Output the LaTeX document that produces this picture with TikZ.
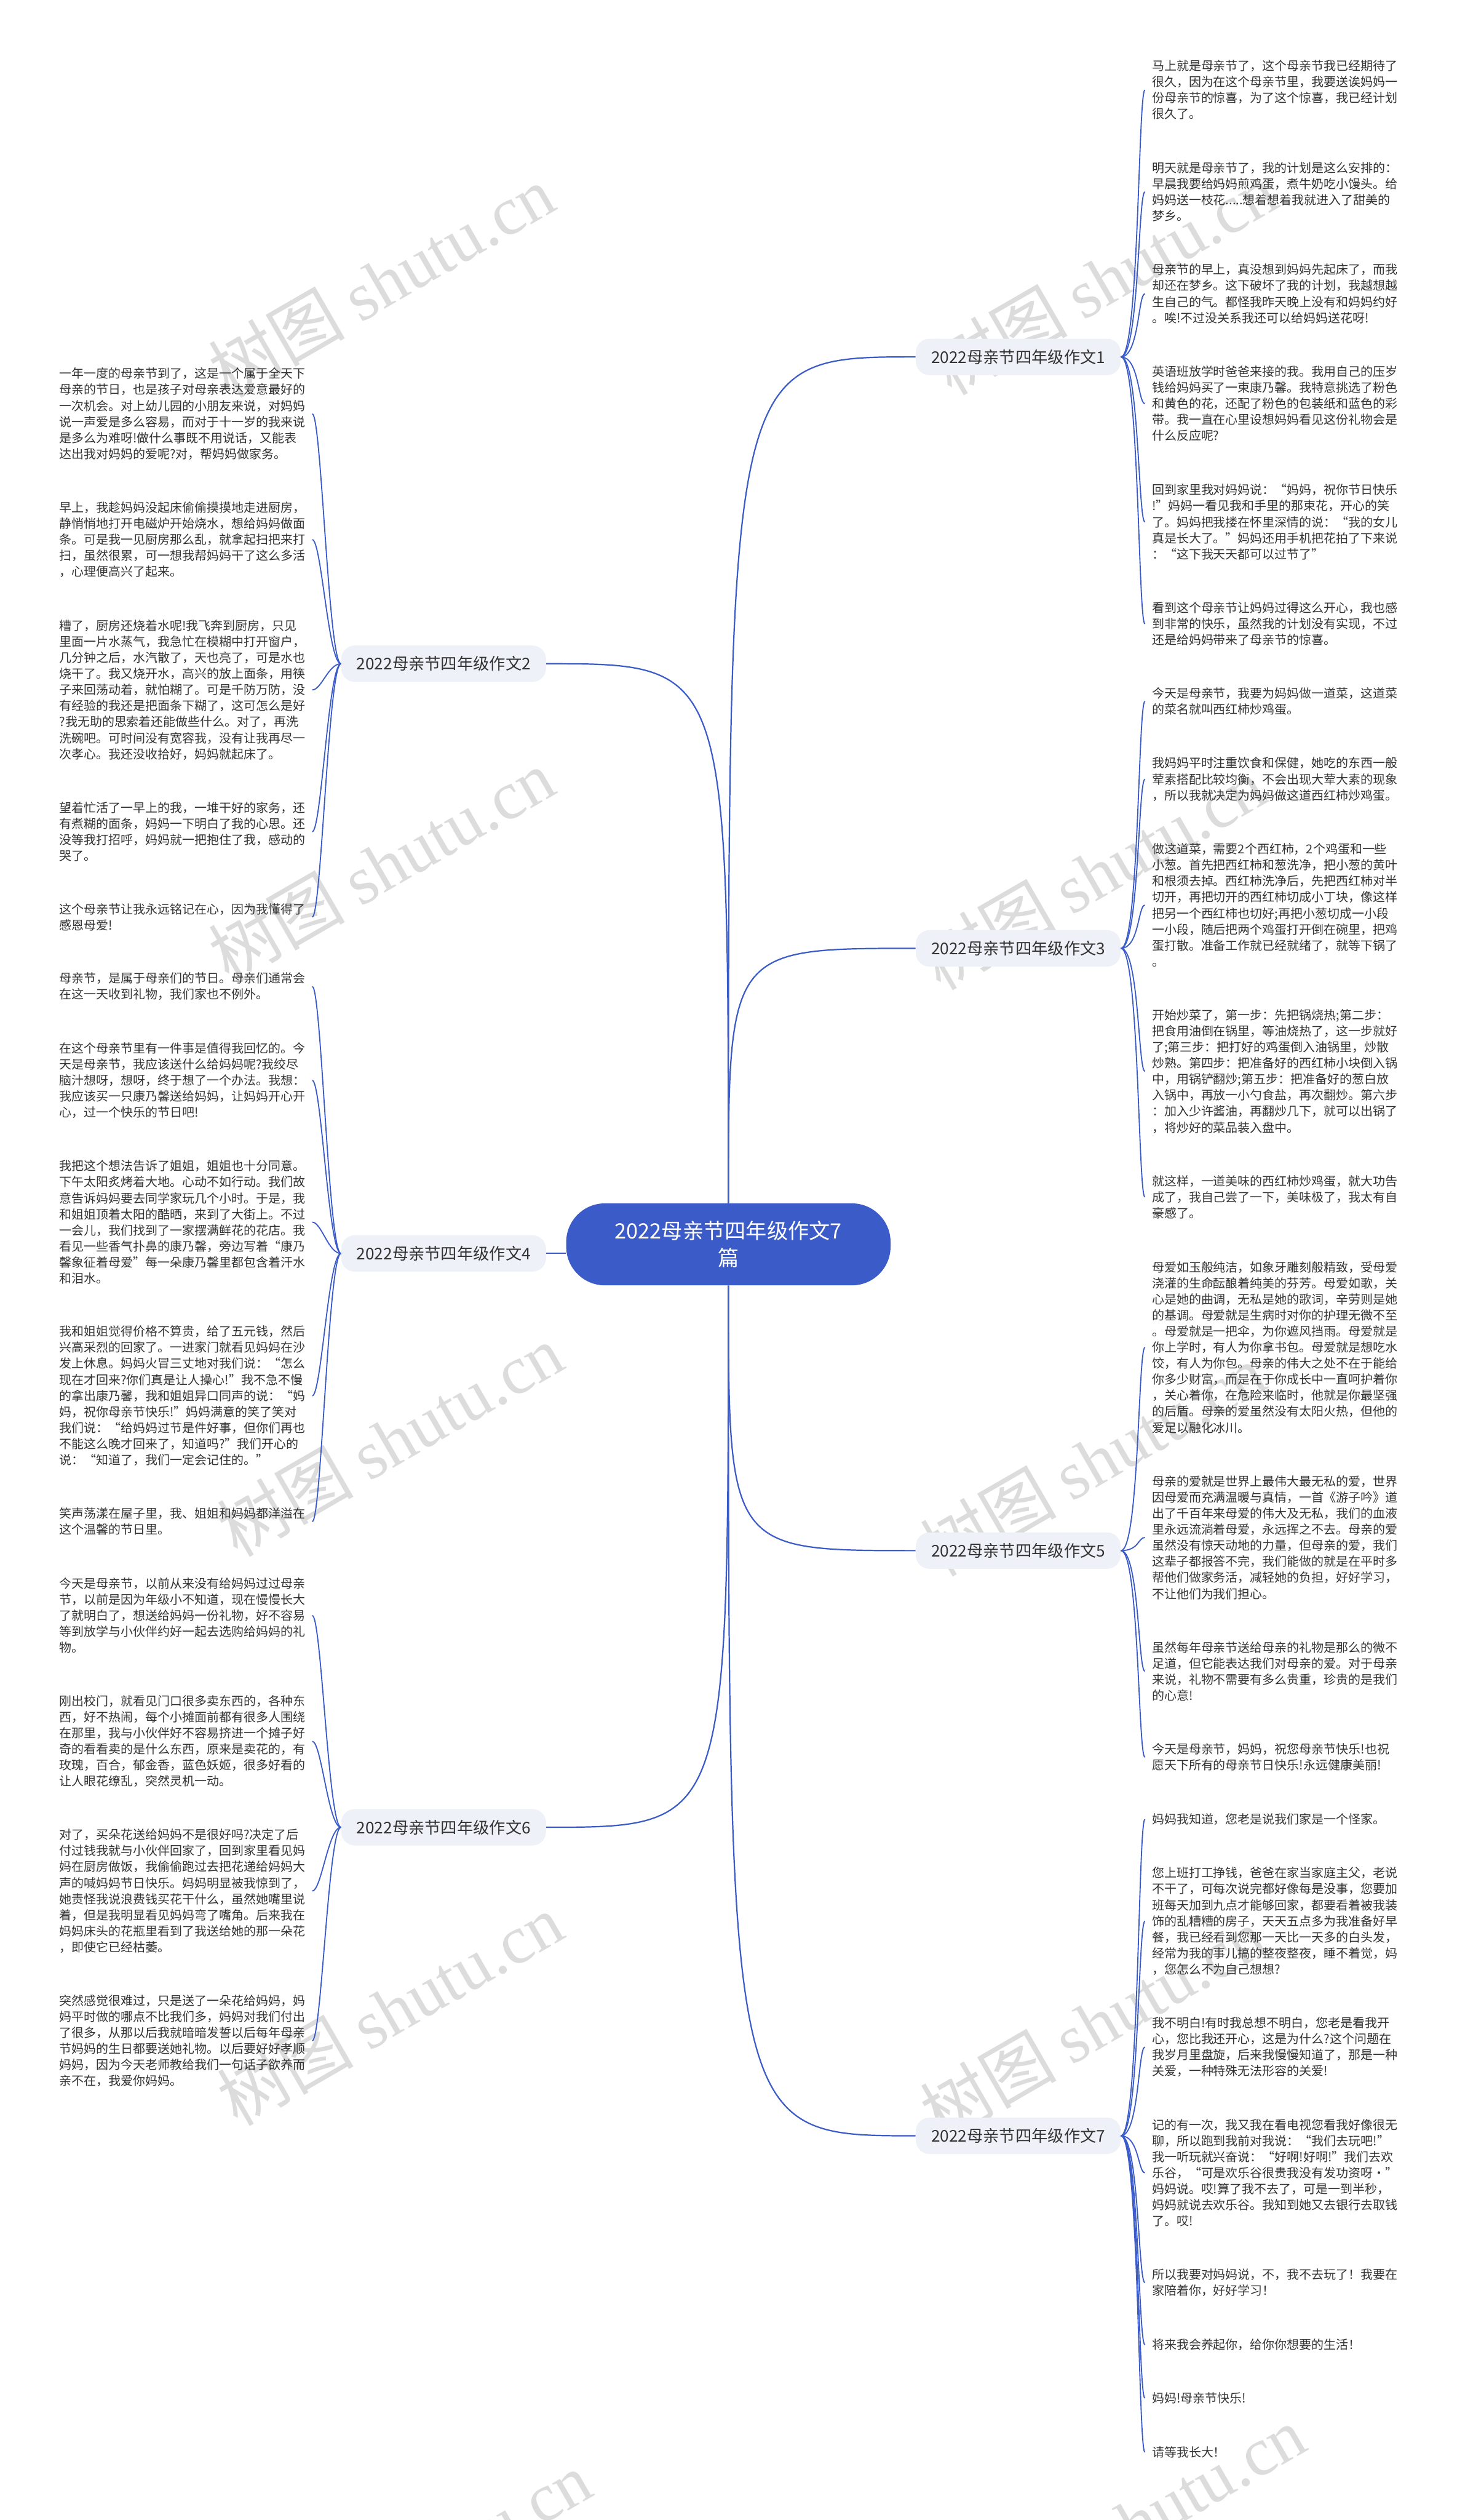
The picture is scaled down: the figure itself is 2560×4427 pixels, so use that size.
\documentclass[tikz,border=0pt]{standalone}
\usepackage{fontspec}
\setmainfont{Noto Sans CJK SC}
\newfontfamily\wmserif{Liberation Serif}
\definecolor{mainblue}{HTML}{3B5CC8}
\definecolor{branchfill}{HTML}{EEF1F7}
\definecolor{txt}{HTML}{333333}
\definecolor{wmgray}{HTML}{DCDCDC}
\tikzset{
  centerbox/.style={fill=mainblue, text=white, rounded corners=34pt, minimum width=285pt, minimum height=72pt, align=center, inner sep=0pt, font=\fontsize{18.5}{24}\selectfont},
  branchbox/.style={fill=branchfill, text=txt, rounded corners=12pt, minimum width=180pt, minimum height=32pt, inner sep=0pt, font=\fontsize{14.2}{17}\selectfont},
  leaf/.style={anchor=west, text width=216pt, align=left, inner xsep=6pt, inner ysep=0pt, text=txt, font=\fontsize{10.8}{14.1}\selectfont},
  mainlink/.style={draw=mainblue, line width=1.2pt},
  leaflink/.style={draw=mainblue, line width=1pt},
  wm/.style={rotate=30, text=wmgray, font=\fontsize{60}{60}\selectfont}
}
\begin{document}
\begin{tikzpicture}[x=0.5pt, y=-0.5pt]
\useasboundingbox (0,0) rectangle (2560,4427);
\fill[white] (0,0) rectangle (2560,4427);
% watermarks
\foreach \wx/\wy in {670/494, 670/1520, 685/2530, 685/3530, 735/4510, 1940/490, 1920/1535, 1920/2565, 1920/3555, 1990/4430}
  \node[wm] at (\wx,\wy) {树图 {\wmserif shutu.cn}};
% center
\node[centerbox] (c) at (1280,2186) {2022母亲节四年级作文7\\篇};
% branches
\node[branchbox, anchor=west] (b1) at (1609,627) {2022母亲节四年级作文1};
\node[branchbox, anchor=west] (b3) at (1609,1666) {2022母亲节四年级作文3};
\node[branchbox, anchor=west] (b5) at (1609,2724) {2022母亲节四年级作文5};
\node[branchbox, anchor=west] (b7) at (1609,3752) {2022母亲节四年级作文7};
\node[branchbox, anchor=east] (b2) at (960,1166) {2022母亲节四年级作文2};
\node[branchbox, anchor=east] (b4) at (960,2202) {2022母亲节四年级作文4};
\node[branchbox, anchor=east] (b6) at (960,3210) {2022母亲节四年级作文6};
% right leaves
\node[leaf] (r1a) at (2012,158) {马上就是母亲节了，这个母亲节我已经期待了\\很久，因为在这个母亲节里，我要送诶妈妈一\\份母亲节的惊喜，为了这个惊喜，我已经计划\\很久了。};
\node[leaf] (r1b) at (2012,337) {明天就是母亲节了，我的计划是这么安排的：\\早晨我要给妈妈煎鸡蛋，煮牛奶吃小馒头。给\\妈妈送一枝花.....想着想着我就进入了甜美的\\梦乡。};
\node[leaf] (r1c) at (2012,516) {母亲节的早上，真没想到妈妈先起床了，而我\\却还在梦乡。这下破坏了我的计划，我越想越\\生自己的气。都怪我昨天晚上没有和妈妈约好\\。唉!不过没关系我还可以给妈妈送花呀!};
\node[leaf] (r1d) at (2012,709) {英语班放学时爸爸来接的我。我用自己的压岁\\钱给妈妈买了一束康乃馨。我特意挑选了粉色\\和黄色的花，还配了粉色的包装纸和蓝色的彩\\带。我一直在心里设想妈妈看见这份礼物会是\\什么反应呢?};
\node[leaf] (r1e) at (2012,917) {回到家里我对妈妈说：“妈妈，祝你节日快乐\\!”妈妈一看见我和手里的那束花，开心的笑\\了。妈妈把我搂在怀里深情的说：“我的女儿\\真是长大了。”妈妈还用手机把花拍了下来说\\：“这下我天天都可以过节了”};
\node[leaf] (r1f) at (2012,1096) {看到这个母亲节让妈妈过得这么开心，我也感\\到非常的快乐，虽然我的计划没有实现，不过\\还是给妈妈带来了母亲节的惊喜。};
\node[leaf] (r3a) at (2012,1232) {今天是母亲节，我要为妈妈做一道菜，这道菜\\的菜名就叫西红柿炒鸡蛋。};
\node[leaf] (r3b) at (2012,1369) {我妈妈平时注重饮食和保健，她吃的东西一般\\荤素搭配比较均衡，不会出现大荤大素的现象\\，所以我就决定为妈妈做这道西红柿炒鸡蛋。};
\node[leaf] (r3c) at (2012,1590) {做这道菜，需要2个西红柿，2个鸡蛋和一些\\小葱。首先把西红柿和葱洗净，把小葱的黄叶\\和根须去掉。西红柿洗净后，先把西红柿对半\\切开，再把切开的西红柿切成小丁块，像这样\\把另一个西红柿也切好;再把小葱切成一小段\\一小段，随后把两个鸡蛋打开倒在碗里，把鸡\\蛋打散。准备工作就已经就绪了，就等下锅了\\。};
\node[leaf] (r3d) at (2012,1882) {开始炒菜了，第一步：先把锅烧热;第二步：\\把食用油倒在锅里，等油烧热了，这一步就好\\了;第三步：把打好的鸡蛋倒入油锅里，炒散\\炒熟。第四步：把准备好的西红柿小块倒入锅\\中，用锅铲翻炒;第五步：把准备好的葱白放\\入锅中，再放一小勺食盐，再次翻炒。第六步\\：加入少许酱油，再翻炒几下，就可以出锅了\\，将炒好的菜品装入盘中。};
\node[leaf] (r3e) at (2012,2103) {就这样，一道美味的西红柿炒鸡蛋，就大功告\\成了，我自己尝了一下，美味极了，我太有自\\豪感了。};
\node[leaf] (r5a) at (2012,2367) {母爱如玉般纯洁，如象牙雕刻般精致，受母爱\\浇灌的生命酝酿着纯美的芬芳。母爱如歌，关\\心是她的曲调，无私是她的歌词，辛劳则是她\\的基调。母爱就是生病时对你的护理无微不至\\。母爱就是一把伞，为你遮风挡雨。母爱就是\\你上学时，有人为你拿书包。母爱就是想吃水\\饺，有人为你包。母亲的伟大之处不在于能给\\你多少财富，而是在于你成长中一直呵护着你\\，关心着你，在危险来临时，他就是你最坚强\\的后盾。母亲的爱虽然没有太阳火热，但他的\\爱足以融化冰川。};
\node[leaf] (r5b) at (2012,2701) {母亲的爱就是世界上最伟大最无私的爱，世界\\因母爱而充满温暖与真情，一首《游子吟》道\\出了千百年来母爱的伟大及无私，我们的血液\\里永远流淌着母爱，永远挥之不去。母亲的爱\\虽然没有惊天动地的力量，但母亲的爱，我们\\这辈子都报答不完，我们能做的就是在平时多\\帮他们做家务活，减轻她的负担，好好学习，\\不让他们为我们担心。};
\node[leaf] (r5c) at (2012,2936) {虽然每年母亲节送给母亲的礼物是那么的微不\\足道，但它能表达我们对母亲的爱。对于母亲\\来说，礼物不需要有多么贵重，珍贵的是我们\\的心意!};
\node[leaf] (r5d) at (2012,3087) {今天是母亲节，妈妈，祝您母亲节快乐!也祝\\愿天下所有的母亲节日快乐!永远健康美丽!};
\node[leaf] (r7a) at (2012,3196) {妈妈我知道，您老是说我们家是一个怪家。};
\node[leaf] (r7b) at (2012,3375) {您上班打工挣钱，爸爸在家当家庭主父，老说\\不干了，可每次说完都好像每是没事，您要加\\班每天加到九点才能够回家，都要看着被我装\\饰的乱糟糟的房子，天天五点多为我准备好早\\餐，我已经看到您那一天比一天多的白头发，\\经常为我的事儿搞的整夜整夜，睡不着觉，妈\\，您怎么不为自己想想?};
\node[leaf] (r7c) at (2012,3596) {我不明白!有时我总想不明白，您老是看我开\\心，您比我还开心，这是为什么?这个问题在\\我岁月里盘旋，后来我慢慢知道了，那是一种\\关爱，一种特殊无法形容的关爱!};
\node[leaf] (r7d) at (2012,3817) {记的有一次，我又我在看电视您看我好像很无\\聊，所以跑到我前对我说：“我们去玩吧!”\\我一听玩就兴奋说：“好啊!好啊!”我们去欢\\乐谷，“可是欢乐谷很贵我没有发功资呀·”\\妈妈说。哎!算了我不去了，可是一到半秒，\\妈妈就说去欢乐谷。我知到她又去银行去取钱\\了。哎!};
\node[leaf] (r7e) at (2012,4010) {所以我要对妈妈说，不，我不去玩了！我要在\\家陪着你，好好学习！};
\node[leaf] (r7f) at (2012,4119) {将来我会养起你，给你你想要的生活！};
\node[leaf] (r7g) at (2012,4213) {妈妈!母亲节快乐!};
\node[leaf] (r7h) at (2012,4308) {请等我长大！};
% left leaves
\node[leaf] (l2a) at (92,727) {一年一度的母亲节到了，这是一个属于全天下\\母亲的节日，也是孩子对母亲表达爱意最好的\\一次机会。对上幼儿园的小朋友来说，对妈妈\\说一声爱是多么容易，而对于十一岁的我来说\\是多么为难呀!做什么事既不用说话，又能表\\达出我对妈妈的爱呢?对，帮妈妈做家务。};
\node[leaf] (l2b) at (92,948) {早上，我趁妈妈没起床偷偷摸摸地走进厨房，\\静悄悄地打开电磁炉开始烧水，想给妈妈做面\\条。可是我一见厨房那么乱，就拿起扫把来打\\扫，虽然很累，可一想我帮妈妈干了这么多活\\，心理便高兴了起来。};
\node[leaf] (l2c) at (92,1212) {糟了，厨房还烧着水呢!我飞奔到厨房，只见\\里面一片水蒸气，我急忙在模糊中打开窗户，\\几分钟之后，水汽散了，天也亮了，可是水也\\烧干了。我又烧开水，高兴的放上面条，用筷\\子来回荡动着，就怕糊了。可是千防万防，没\\有经验的我还是把面条下糊了，这可怎么是好\\?我无助的思索着还能做些什么。对了，再洗\\洗碗吧。可时间没有宽容我，没有让我再尽一\\次孝心。我还没收拾好，妈妈就起床了。};
\node[leaf] (l2d) at (92,1461) {望着忙活了一早上的我，一堆干好的家务，还\\有煮糊的面条，妈妈一下明白了我的心思。还\\没等我打招呼，妈妈就一把抱住了我，感动的\\哭了。};
\node[leaf] (l2e) at (92,1611) {这个母亲节让我永远铭记在心，因为我懂得了\\感恩母爱!};
\node[leaf] (l4a) at (92,1733) {母亲节，是属于母亲们的节日。母亲们通常会\\在这一天收到礼物，我们家也不例外。};
\node[leaf] (l4b) at (92,1898) {在这个母亲节里有一件事是值得我回忆的。今\\天是母亲节，我应该送什么给妈妈呢?我绞尽\\脑汁想呀，想呀，终于想了一个办法。我想：\\我应该买一只康乃馨送给妈妈，让妈妈开心开\\心，过一个快乐的节日吧!};
\node[leaf] (l4c) at (92,2147) {我把这个想法告诉了姐姐，姐姐也十分同意。\\下午太阳炙烤着大地。心动不如行动。我们故\\意告诉妈妈要去同学家玩几个小时。于是，我\\和姐姐顶着太阳的酷晒，来到了大街上。不过\\一会儿，我们找到了一家摆满鲜花的花店。我\\看见一些香气扑鼻的康乃馨，旁边写着“康乃\\馨象征着母爱”每一朵康乃馨里都包含着汗水\\和泪水。};
\node[leaf] (l4d) at (92,2452) {我和姐姐觉得价格不算贵，给了五元钱，然后\\兴高采烈的回家了。一进家门就看见妈妈在沙\\发上休息。妈妈火冒三丈地对我们说：“怎么\\现在才回来?你们真是让人操心!”我不急不慢\\的拿出康乃馨，我和姐姐异口同声的说：“妈\\妈，祝你母亲节快乐!”妈妈满意的笑了笑对\\我们说：“给妈妈过节是件好事，但你们再也\\不能这么晚才回来了，知道吗?”我们开心的\\说：“知道了，我们一定会记住的。”};
\node[leaf] (l4e) at (92,2673) {笑声荡漾在屋子里，我、姐姐和妈妈都洋溢在\\这个温馨的节日里。};
\node[leaf] (l6a) at (92,2838) {今天是母亲节，以前从来没有给妈妈过过母亲\\节，以前是因为年级小不知道，现在慢慢长大\\了就明白了，想送给妈妈一份礼物，好不容易\\等到放学与小伙伴约好一起去选购给妈妈的礼\\物。};
\node[leaf] (l6b) at (92,3059) {刚出校门，就看见门口很多卖东西的，各种东\\西，好不热闹，每个小摊面前都有很多人围绕\\在那里，我与小伙伴好不容易挤进一个摊子好\\奇的看看卖的是什么东西，原来是卖花的，有\\玫瑰，百合，郁金香，蓝色妖姬，很多好看的\\让人眼花缭乱，突然灵机一动。};
\node[leaf] (l6c) at (92,3322) {对了，买朵花送给妈妈不是很好吗?决定了后\\付过钱我就与小伙伴回家了，回到家里看见妈\\妈在厨房做饭，我偷偷跑过去把花递给妈妈大\\声的喊妈妈节日快乐。妈妈明显被我惊到了，\\她责怪我说浪费钱买花干什么，虽然她嘴里说\\着，但是我明显看见妈妈弯了嘴角。后来我在\\妈妈床头的花瓶里看到了我送给她的那一朵花\\，即使它已经枯萎。};
\node[leaf] (l6d) at (92,3585) {突然感觉很难过，只是送了一朵花给妈妈，妈\\妈平时做的哪点不比我们多，妈妈对我们付出\\了很多，从那以后我就暗暗发誓以后每年母亲\\节妈妈的生日都要送她礼物。以后要好好孝顺\\妈妈，因为今天老师教给我们一句话子欲养而\\亲不在，我爱你妈妈。};
% center to branches
\draw[mainlink] (c.north) .. controls (c.north |- b1.west) .. (b1.west);
\draw[mainlink] (c.north) .. controls (c.north |- b3.west) .. (b3.west);
\draw[mainlink] (c.south) .. controls (c.south |- b5.west) .. (b5.west);
\draw[mainlink] (c.south) .. controls (c.south |- b7.west) .. (b7.west);
\draw[mainlink] (c.north) .. controls (c.north |- b2.east) .. (b2.east);
\draw[mainlink] (c.south) .. controls (c.south |- b6.east) .. (b6.east);
\draw[mainlink] (c.west |- b4.east) -- (b4.east);
% branches to leaves (right)
\foreach \b/\ls in {b1/{r1a,r1b,r1c,r1d,r1e,r1f}, b3/{r3a,r3b,r3c,r3d,r3e}, b5/{r5a,r5b,r5c,r5d}, b7/{r7a,r7b,r7c,r7d,r7e,r7f,r7g,r7h}}
  \foreach \l in \ls
    \draw[leaflink] (\b.east) .. controls ([xshift=16pt]\b.east) and ([xshift=-6pt]\l.west) .. (\l.west);
% branches to leaves (left)
\foreach \b/\ls in {b2/{l2a,l2b,l2c,l2d,l2e}, b4/{l4a,l4b,l4c,l4d,l4e}, b6/{l6a,l6b,l6c,l6d}}
  \foreach \l in \ls
    \draw[leaflink] (\b.west) .. controls ([xshift=-11pt]\b.west) and ([xshift=8pt]\l.east) .. (\l.east);
\end{tikzpicture}
\end{document}
